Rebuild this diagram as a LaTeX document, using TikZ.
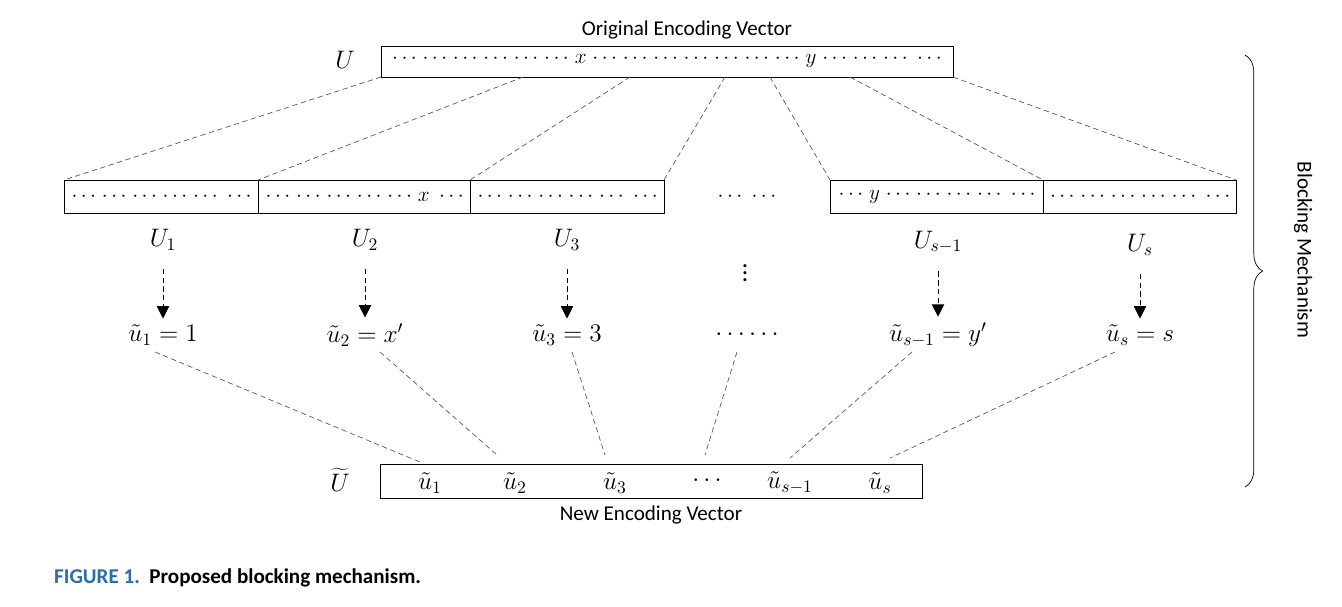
\documentclass[tikz,border=0pt]{standalone}
\usepackage{fontspec}
\setmainfont{Carlito}
\usetikzlibrary{decorations.pathreplacing,arrows.meta}
\newcommand{\cd}{{\cdots}\mkern5mu}
\begin{document}
\begin{tikzpicture}[x=0.02cm,y=-0.02cm,
  box/.style={draw,thick,inner sep=0,anchor=north west},
  dl/.style={densely dashed,gray!70!black,thin},
  ar/.style={densely dashed,-{Triangle[length=7pt,width=7pt]},thin},
  lab/.style={font=\Large},
  txt/.style={font=\large}]
\useasboundingbox (0,0) rectangle (1342,606);
% top
\node[box,minimum width=572*0.02cm,minimum height=31*0.02cm] (top) at (381,46) {};
\node[font=\large] (topt) at (667,61) {$\cd\cd\cd\cd\cd\cd x\mkern5mu\cd\cd\cd\cd\cd\cd\cd y\mkern5mu\cd\cd\cd\cdots$};
\node[txt] (ot) at (687,30) {Original Encoding Vector};
\node[lab] (U) at (345,60) {$U$};
% blocks
\foreach \n/\a/\b/\t in {b1/64/258/{\cd\cd\cd\cd\cd\cdots},
  b2/258/470/{\cd\cd\cd\cd\cd x\mkern5mu\cdots},
  b3/470/664/{\cd\cd\cd\cd\cd\cdots},
  b4/830/1043/{\cd y\mkern5mu\cd\cd\cd\cd\cdots},
  b5/1043/1236/{\cd\cd\cd\cd\cd\cdots}}
  {\node[box,minimum width={(\b-\a)*0.02cm},minimum height=33*0.02cm,font=\large] (\n) at (\a,180) {$\t$};}
\node[font=\large] (mid) at (747,197) {$\cd\cdots$};
% dashed from top
\foreach \xa/\xb in {381/64,523/258,630/470,725/664,770/830,850/1043,953/1236}
  {\coordinate (s\xa) at (\xa,77); \coordinate (e\xb) at (\xb,180); \draw[dl] (s\xa) -- (e\xb);}
% labels
\node[lab] (U1) at (163,240) {$U_1$};
\node[lab] (U2) at (365,240) {$U_2$};
\node[lab] (U3) at (567,240) {$U_3$};
\node[lab] (Us1) at (938,242) {$U_{s-1}$};
\node[lab] (Us) at (1140,245) {$U_s$};
\node[lab,inner sep=0] (vd) at (745,268) {$\vdots$};
% values
\node[lab] (v1) at (163,335) {$\tilde u_1 = 1$};
\node[lab] (v2) at (365,335) {$\tilde u_2 = x'$};
\node[lab] (v3) at (567,335) {$\tilde u_3 = 3$};
\node[lab] (v4) at (747,335) {$\cdots\cdots$};
\node[lab] (v5) at (938,335) {$\tilde u_{s-1} = y'$};
\node[lab] (v6) at (1140,335) {$\tilde u_s = s$};
\foreach \a/\b in {U1/v1,U2/v2,U3/v3,Us1/v5,Us/v6}
  \draw[ar] (\a.south) ++(0,12) coordinate (t\a) (t\a) -- (\b.north);
% bottom
\node[box,minimum width=542*0.02cm,minimum height=34*0.02cm] (bot) at (380,464) {};
\node[lab] (w1) at (430,483) {$\tilde u_1$};
\node[lab] (w2) at (515,483) {$\tilde u_2$};
\node[lab] (w3) at (615,483) {$\tilde u_3$};
\node[lab] (w4) at (707,481) {$\cdots$};
\node[lab] (w5) at (790,483) {$\tilde u_{s-1}$};
\node[lab] (w6) at (880,483) {$\tilde u_s$};
\node[lab,inner sep=0] (Ut) at (340,480) {$\widetilde U$};
\node[txt] (nt) at (651,515) {New Encoding Vector};
\foreach \xa/\xb/\yb in {155/420/462,380/497/455,572/605/455,737/705/455,912/790/458,1115/890/458}
  {\coordinate (p\xa) at (\xa,352); \coordinate (q\xa) at (\xb,\yb); \draw[dl] (p\xa) -- (q\xa);}
% brace
\coordinate (br1) at (1245,55); \coordinate (br2) at (1245,487);
\draw[decorate,decoration={brace,amplitude=10pt}] (br1) -- (br2);
\node[txt,rotate=-90] (bm) at (1303,250) {Blocking Mechanism};
% caption
\node[anchor=west,font=\large\bfseries] (cap) at (48,578) {\textcolor[RGB]{40,110,170}{FIGURE 1.}\ \ Proposed blocking mechanism.};
\end{tikzpicture}
\end{document}
